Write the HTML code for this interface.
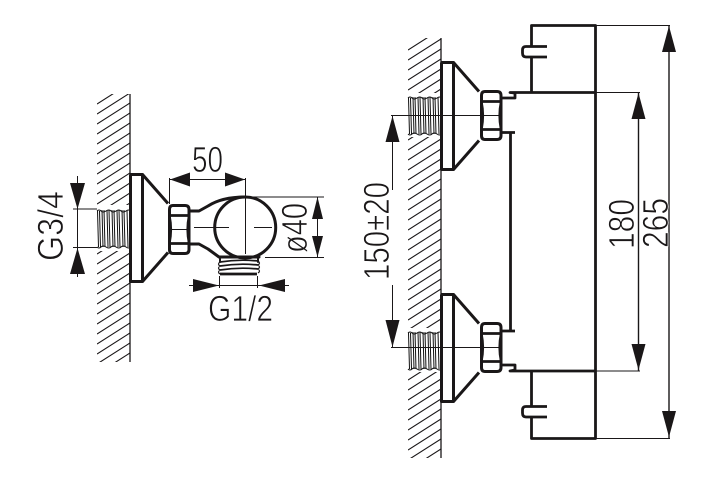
<!DOCTYPE html>
<html><head><meta charset="utf-8"><style>
html,body{margin:0;padding:0;background:#fff;width:720px;height:478px;overflow:hidden}
svg{display:block}
text{font-family:"Liberation Sans",sans-serif;fill:#1a1718;stroke:#fff;stroke-width:.75}
</style></head><body>
<svg width="720" height="478" viewBox="0 0 720 478" xmlns="http://www.w3.org/2000/svg">
<defs>
<clipPath id="cl"><rect x="97" y="94" width="33" height="268"/></clipPath>
<clipPath id="cr"><rect x="408" y="38" width="33" height="420"/></clipPath>
<g id="thr" fill="none" stroke="#111" stroke-width="1">
<path d="M0 1q2-2 4 0t5 0 5 0 5 0 5 0 5 0 4 0M0 37q2 2 4 0t5 0 5 0 5 0 5 0 5 0 4 0"/>
<path d="M.5 1l1 36M2.500 1l1 36M5 0l1 37M7 0l1 37M10 0l1 37M12 0l1 37M15 0l1 37M17 0l1 37M20 0l1 37M22 0l1 37M25 0l1 37M27 0l1 37M30 0l1 37"/>
</g>
<g id="nut" fill="none" stroke="#1a1718" stroke-linejoin="round">
<path d="M5 1.500H17Q21 1.500 21 5.500V45.500Q21 49.500 17 49.500H5Q1.500 49.500 1.500 45.500V5.500Q1.500 1.500 5 1.500Z" stroke-width="3"/>
<path d="M1.500 11.500H21M1.500 39.500H21" stroke-width="2.800"/>
<path d="M1.500 11.500Q4.500 25.500 1.500 39.500M21 11.500Q18 25.500 21 39.500" stroke-width="2.200"/>
<path d="M1 25.500H21" stroke-width="1"/>
</g>
<g id="brk" fill="none" stroke="#1a1718" stroke-width="3" stroke-linejoin="round">
<path d="M.5 1.500V108.500H12.500V1.500H.5M12.500 1.500L38 30.500M38 79.500L12.500 108.500"/>
</g>
</defs>

<!-- hatching -->
<g fill="none" stroke="#1a1718" stroke-width="1.100">
<path clip-path="url(#cl)" d="M97 104l33-21m-33 31l33-21m-33 31l33-21m-33 31l33-21m-33 31l33-21m-33 31l33-21m-33 31l33-21m-33 31l33-21m-33 31l33-21m-33 31l33-21m-33 31l33-21m-33 31l33-21m-33 31l33-21m-33 31l33-21m-33 31l33-21m-33 31l33-21m-33 31l33-21m-33 31l33-21m-33 31l33-21m-33 31l33-21m-33 31l33-21m-33 31l33-21m-33 31l33-21m-33 31l33-21m-33 31l33-21m-33 31l33-21m-33 31l33-21m-33 31l33-21"/>
<path clip-path="url(#cr)" d="M408 50l33-21m-33 31l33-21m-33 31l33-21m-33 31l33-21m-33 31l33-21m-33 31l33-21m-33 31l33-21m-33 31l33-21m-33 31l33-21m-33 31l33-21m-33 31l33-21m-33 31l33-21m-33 31l33-21m-33 31l33-21m-33 31l33-21m-33 31l33-21m-33 31l33-21m-33 31l33-21m-33 31l33-21m-33 31l33-21m-33 31l33-21m-33 31l33-21m-33 31l33-21m-33 31l33-21m-33 31l33-21m-33 31l33-21m-33 31l33-21m-33 31l33-21m-33 31l33-21m-33 31l33-21m-33 31l33-21m-33 31l33-21m-33 31l33-21m-33 31l33-21m-33 31l33-21m-33 31l33-21m-33 31l33-21m-33 31l33-21m-33 31l33-21m-33 31l33-21m-33 31l33-21m-33 31l33-21m-33 31l33-21"/>
</g>
<g fill="#fff">
<rect x="96" y="205" width="34" height="46"/>
<rect x="407" y="93" width="34" height="44"/>
<rect x="407" y="328" width="34" height="44"/>
</g>
<path d="M130 94V362M441 38V458" fill="none" stroke="#1a1718" stroke-width="1.300"/>

<!-- threads -->
<use href="#thr" x="97" y="210"/>
<use href="#thr" x="408" y="97"/>
<use href="#thr" x="408" y="332"/>

<!-- brackets and nuts -->
<use href="#brk" x="130" y="173"/>
<use href="#brk" x="441" y="61"/>
<use href="#brk" x="441" y="293"/>
<use href="#nut" x="168" y="204"/>
<use href="#nut" x="480" y="90"/>
<use href="#nut" x="480" y="322"/>

<!-- thin lines -->
<g fill="none" stroke="#1a1718" stroke-width="1">
<path d="M194 227.500H229M254 227.500H272M245.500 178V254"/>
<path d="M169.500 178V204M245 197H324M265 257.500H324M73 209H97M73 247.500H97M77.500 176V277M219.500 276V288M257.500 276V288M170 179.500H245M317.500 197V257M189 285.500H289"/>
<path d="M391 115.500H494M391 347.500H494M392.500 115V190M392.500 285V347M595 92.500H640M595 371H640M595 25.500H670M595 438.500H670"/>
<path d="M638.500 92V371M669 25V438" stroke-width="1.400"/>
</g>

<!-- left fitting -->
<g fill="none" stroke="#1a1718" stroke-width="3" stroke-linejoin="round" stroke-linecap="round">
<circle cx="245.200" cy="227.500" r="30.500"/>
<path d="M190 211H199L208 206Q222 197 245 197"/>
<path d="M190 244H199L208 249L219 257H259"/>
<path d="M220 257V262M258 257V262" stroke-width="2"/>
</g>
<g fill="none" stroke="#1a1718" stroke-width="1.700">
<path d="M220 262Q239 259 258 261M220 266Q239 263 258 265M220 270Q239 267 258 269"/>
<path d="M220 274H257" stroke-width="2.800"/>
<path d="M220 262q-3 2 0 4q-3 2 0 4q-3 2 0 4M258 261q3 2 0 4q3 2 0 4q3 2 0 4" stroke-width="1.200"/>
</g>

<!-- right body -->
<g fill="none" stroke="#1a1718" stroke-width="2.800" stroke-linejoin="round">
<path d="M531.500 92V57M531.500 46V25.500H595.500V438.500H531.500V417M531.500 406V371"/>
<path d="M547 46.500H526Q522.500 46.500 522.500 50V53Q522.500 57 526 57H547"/>
<path d="M547 406.500H526Q522.500 406.500 522.500 410V413Q522.500 417 526 417H547"/>
<path d="M501 98H515V93L510 92.500H595M501 132.500H515M510.500 132.500V331M501 331H515M501 365H515V370L510 371H595"/>
</g>

<!-- arrowheads -->
<g fill="#1a1718">
<path d="M77.500 209L70 183H85Z"/>
<path d="M77.500 248L70 274H85Z"/>
<path d="M170 179.500L190 172.500V186.500Z"/>
<path d="M245 179.500L225 172.500V186.500Z"/>
<path d="M317.500 197L312 219H323Z"/>
<path d="M317.500 257L312 236H323Z"/>
<path d="M219 285.500L193 279V292Z"/>
<path d="M259 285.500L285 279V292Z"/>
<path d="M392.500 116L385.500 142H399.500Z"/>
<path d="M392.500 347L385.500 320H399.500Z"/>
<path d="M638.500 93L631.500 119H645.500Z"/>
<path d="M638.500 370L631.500 344H645.500Z"/>
<path d="M669 26L662 52H676Z"/>
<path d="M669 437L662 411H676Z"/>
</g>

<!-- labels -->
<text x="192" y="172" font-size="36" textLength="31" lengthAdjust="spacingAndGlyphs">50</text>
<text x="208" y="321" font-size="36" textLength="65" lengthAdjust="spacingAndGlyphs">G1/2</text>
<text transform="translate(63 261) rotate(-90)" font-size="36" textLength="70" lengthAdjust="spacingAndGlyphs">G3/4</text>
<text transform="translate(307 253) rotate(-90)" font-size="36" textLength="50" lengthAdjust="spacingAndGlyphs">ø40</text>
<text transform="translate(389 280) rotate(-90)" font-size="36" textLength="98" lengthAdjust="spacingAndGlyphs">150±20</text>
<text transform="translate(634 249) rotate(-90)" font-size="36" textLength="50" lengthAdjust="spacingAndGlyphs">180</text>
<text transform="translate(668 248) rotate(-90)" font-size="36" textLength="50" lengthAdjust="spacingAndGlyphs">265</text>
</svg>
</body></html>
